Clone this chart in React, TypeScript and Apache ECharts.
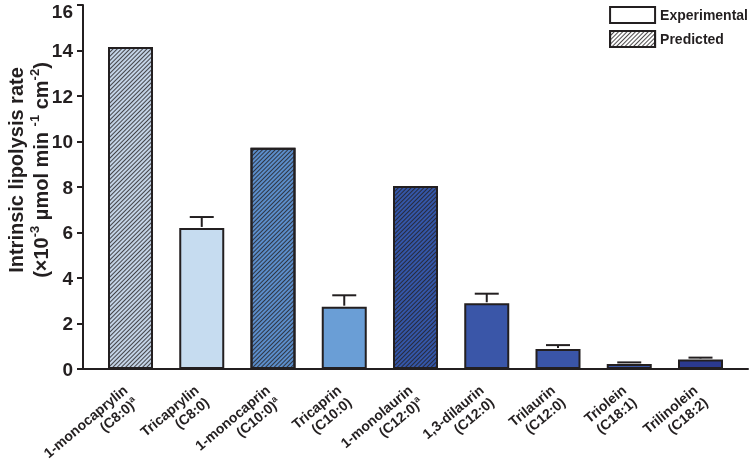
import React, { useEffect, useRef } from 'react';
import * as echarts from 'echarts';

const names = ['1-monocaprylin', 'Tricaprylin', '1-monocaprin', 'Tricaprin', '1-monolaurin', '1,3-dilaurin', 'Trilaurin', 'Triolein', 'Trilinolein'];
const chains = ['(C8:0)', '(C8:0)', '(C10:0)', '(C10:0)', '(C12:0)', '(C12:0)', '(C12:0)', '(C18:1)', '(C18:2)'];
const footnotes = ['a', '', 'a', '', 'a', '', '', '', ''];
const experimental = [null, 6.2, null, 2.74, null, 2.89, 0.88, 0.22, 0.42];
const experimentalErr = [null, 0.48, null, 0.5, null, 0.42, 0.17, 0.07, 0.08];
const predicted = [14.15, null, 9.72, null, 8.04, null, null, null, null];
const barColors = ['#c3d3e6', '#c6dcf0', '#5b8dca', '#6a9ed6', '#3456a8', '#3a56a8', '#3a55a8', '#3b58a9', '#2b3a90'];
const yMin = 0;
const yMax = 16;
const yInterval = 2;

const FONT = 'Liberation Sans, Arial, Helvetica, sans-serif';
const INK = '#231f20';

export default function App() {
  const ref = useRef<HTMLDivElement>(null);
  useEffect(() => {
    if (!ref.current) return;
    const chart = echarts.init(ref.current, undefined, { renderer: 'svg' });
    const decal = {
      symbol: 'rect',
      symbolSize: 1,
      dashArrayX: [1, 0],
      dashArrayY: [1, 1.2],
      rotation: -Math.PI / 4,
      color: 'rgba(35,31,32,0.8)',
    };
    const expData = experimental.map((v, i) =>
      v == null ? '-' : { value: v, itemStyle: { color: barColors[i] } }
    );
    const predData = predicted.map((v, i) =>
      v == null ? '-' : { value: v, itemStyle: { color: barColors[i] } }
    );
    const errData: any[] = [];
    experimental.forEach((v, i) => {
      if (v != null && experimentalErr[i] != null) errData.push([i, v, v + (experimentalErr[i] as number)]);
    });
    const labelStyle = { fontFamily: FONT, fontWeight: 'bold', fontSize: 19, color: INK };
    const option: any = {
      animation: false,
      textStyle: { fontFamily: FONT },
      grid: [
        { left: 94.875, right: 13.875, top: 5, bottom: 92, outerBoundsMode: 'none', containLabel: false },
        { left: 83, right: 2, top: 5, bottom: 92, outerBoundsMode: 'none', containLabel: false },
      ],
      legend: {
        data: ['Experimental', 'Predicted'],
        orient: 'vertical',
        right: 2,
        top: 6,
        padding: 0,
        itemWidth: 45,
        itemHeight: 16,
        itemGap: 6,
        icon: 'rect',
        textStyle: { fontFamily: FONT, fontWeight: 'bold', fontSize: 14, color: INK, padding: [0, 0, 0, 0] },
      },
      xAxis: [
        {
          type: 'category',
          gridIndex: 0,
          data: names,
          axisLine: { show: false },
          axisTick: { show: false },
          axisLabel: {
            interval: 0,
            rotate: 40,
            margin: 25,
            formatter: (_v: string, i: number) =>
              `{n|${names[i]}}\n{n|${chains[i]}}` + (footnotes[i] ? `{s|${footnotes[i]}}` : ''),
            rich: {
              n: { fontFamily: FONT, fontWeight: 'bold', fontSize: 14, color: INK, lineHeight: 16 },
              s: { fontFamily: FONT, fontWeight: 'bold', fontSize: 9, color: INK, lineHeight: 9, verticalAlign: 'top' },
            },
          },
        },
        {
          type: 'value',
          gridIndex: 1,
          min: 0,
          max: 1,
          axisLine: { show: true, lineStyle: { color: INK, width: 2 } },
          axisTick: { show: false },
          axisLabel: { show: false },
          splitLine: { show: false },
        },
      ],
      yAxis: [
        { type: 'value', gridIndex: 0, min: yMin, max: yMax, interval: yInterval, show: false },
        {
          type: 'value',
          gridIndex: 1,
          min: yMin,
          max: yMax,
          interval: yInterval,
          axisLine: { show: true, lineStyle: { color: INK, width: 2 } },
          axisTick: { show: true, length: 6, lineStyle: { color: INK, width: 2 } },
          splitLine: { show: false },
          axisLabel: {
            ...labelStyle,
            margin: 10,
            formatter: (v: number) => (v === yMax ? `{top|${v}}` : `{n|${v}}`),
            rich: {
              n: { ...labelStyle },
              top: { ...labelStyle, lineHeight: 7, verticalAlign: 'top' },
            },
          },
          name: '{t|Intrinsic lipolysis rate}\n{t|(×10}{u|-3}{t| µmol min }{u|-1}{t| cm}{u|-2}{t|)}',
          nameLocation: 'middle',
          nameGap: 30,
          nameMoveOverlap: false,
          nameTextStyle: {
            padding: [0, 0, 0, 34],
            rich: {
              t: { fontFamily: FONT, fontWeight: 'bold', fontSize: 20, color: INK, lineHeight: 25, align: 'center' },
              u: { fontFamily: FONT, fontWeight: 'bold', fontSize: 13, color: INK, lineHeight: 13, verticalAlign: 'top', align: 'center' },
            },
          },
        },
      ],
      series: [
        {
          name: 'Experimental',
          type: 'bar',
          xAxisIndex: 0,
          yAxisIndex: 0,
          data: expData,
          barWidth: 45,
          barGap: '-100%',
          itemStyle: { color: '#ffffff', borderColor: INK, borderWidth: 2 },
        },
        {
          name: 'Predicted',
          type: 'bar',
          xAxisIndex: 0,
          yAxisIndex: 0,
          data: predData,
          barWidth: 45,
          barGap: '-100%',
          itemStyle: { color: '#ffffff', borderColor: INK, borderWidth: 2, decal },
        },
        {
          name: 'err',
          type: 'custom',
          xAxisIndex: 0,
          yAxisIndex: 0,
          data: errData,
          encode: { x: 0, y: [1, 2] },
          z: 3,
          renderItem: (_p: any, api: any) => {
            const base = api.coord([api.value(0), api.value(1)]);
            const top = api.coord([api.value(0), api.value(2)]);
            const half = 12;
            const st = { stroke: INK, lineWidth: 2 };
            return {
              type: 'group',
              children: [
                { type: 'line', shape: { x1: base[0], y1: base[1] - 1, x2: top[0], y2: top[1] }, style: st },
                { type: 'line', shape: { x1: top[0] - half, y1: top[1], x2: top[0] + half, y2: top[1] }, style: st },
              ],
            };
          },
        },
      ],
    };
    chart.setOption(option);
    return () => chart.dispose();
  }, []);
  return <div ref={ref} style={{ position: 'fixed', left: 0, top: 0, width: 750, height: 461 }} />;
}
